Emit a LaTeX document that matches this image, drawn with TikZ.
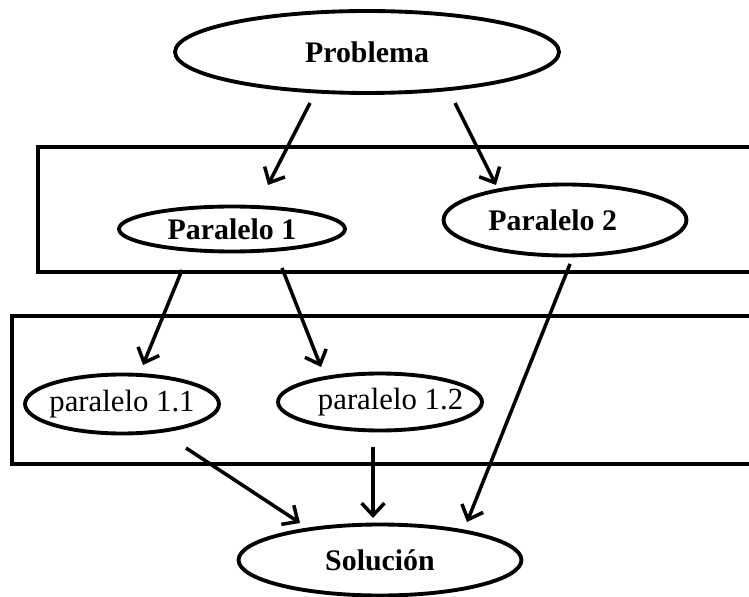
\documentclass[tikz,border=0pt]{standalone}
\usepackage{fontspec}
\setmainfont{Liberation Serif}
\usepackage{tikz}
\usetikzlibrary{
  calc,
  arrows.meta,
  shapes.geometric,
}
\tikzset{
  oval/.style = {
      ellipse,
      draw=black,
      line width=2.2pt,
      inner sep=0pt,
      font=\fontsize{17}{20}\selectfont\bfseries,
    },
  small oval/.style = {
      oval,
      font=\fontsize{17.5}{21}\selectfont,
    },
  frame/.style = {
      draw=black,
      line width=2.2pt,
    },
  arr/.style = {
      -{Straight Barb[length=7pt, width=13pt, line width=2pt]},
      line width=2pt,
    },
}

\begin{document}
\begin{tikzpicture}[x=0.02cm, y=-0.02cm]
    \useasboundingbox (0,0) rectangle (749,597);
    \clip (0,0) rectangle (749,597);

    \draw[frame] (38,147) rectangle (770,272);
    \draw[frame] (12,316) rectangle (770,464);

    \node[oval, minimum width=7.68cm, minimum height=1.64cm] (prob) at (367,52) {\makebox[0pt]{Problema}};
    \node[oval, minimum width=4.52cm, minimum height=0.9cm] (p1) at (232,229) {\makebox[0pt]{Paralelo 1}};
    \node[oval, minimum width=4.86cm, minimum height=1.42cm] (p2) at (565,220) {\makebox[0pt]{\hspace*{-14pt}Paralelo 2}};
    \node[small oval, minimum width=3.88cm, minimum height=1.18cm] (p11) at (122,404) {\makebox[0pt]{paralelo 1.1}};
    \node[small oval, minimum width=4.08cm, minimum height=1.14cm] (p12) at (380,402) {\makebox[0pt]{\hspace*{12pt}paralelo 1.2}};
    \node[oval, minimum width=5.66cm, minimum height=1.42cm] (sol) at (380,560) {\makebox[0pt]{Solución}};

    \draw[arr] ($(prob)+(-57,51)$) -- ($(p1)+(36,-44)$);
    \draw[arr] ($(prob)+(88,51)$) -- ($(p2)+(-69,-35)$);
    \draw[arr] ($(p1)+(-50,41)$) -- ($(p11)+(21,-39)$);
    \draw[arr] ($(p1)+(50,39)$) -- ($(p12)+(-59,-35)$);
    \draw[arr] ($(p11)+(64,44)$) -- ($(sol)+(-80,-37)$);
    \draw[arr] ($(p12)+(-7,45)$) -- ($(sol)+(-7,-42)$);
    \draw[arr] ($(p2)+(5,44)$) -- ($(sol)+(87,-38)$);
\end{tikzpicture}
\end{document}
